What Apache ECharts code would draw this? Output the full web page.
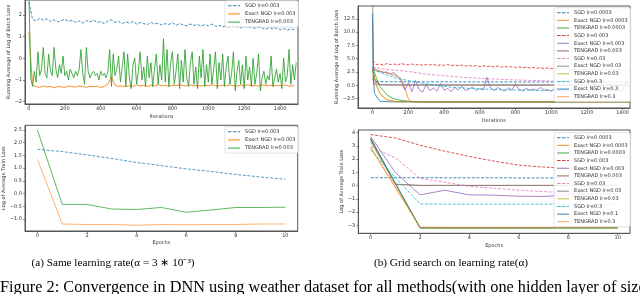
<!DOCTYPE html>
<html><head><meta charset="utf-8">
<script src="https://cdn.jsdelivr.net/npm/echarts@6/dist/echarts.min.js"></script>
<style>html,body{margin:0;padding:0;background:#fff}#c{width:640px;height:294px}</style>
</head><body><div id="c"></div><script>
// ---------- tick values ----------
const iterTicks = [0, 200, 400, 600, 800, 1000, 1200, 1400];
const epochTicks = [0, 2, 4, 6, 8, 10];
const tlYTicks = [-2, -1, 0, 1, 2];
const blYTicks = [-1.0, -0.5, 0.0, 0.5, 1.0, 1.5, 2.0, 2.5];
const trYTicks = [-2.5, 0.0, 2.5, 5.0, 7.5, 10.0, 12.5];
const brYTicks = [-3, -2, -1, 0, 1, 2, 3, 4];
const epochs = [0, 1, 2, 3, 4, 5, 6, 7, 8, 9, 10];

// ---------- (a) top: running average of log batch loss ----------
const tlStep = 20;      // iterations between samples (SGD, Exact NGD)
const tlStepTen = 10;   // iterations between samples (TENGRAD)
const tlSgd = [2.6,1.8,1.72,1.85,1.75,1.82,1.7,1.78,1.68,1.74,
  1.8,1.7,1.76,1.66,1.72,1.62,1.74,1.68,1.76,1.65,
  1.7,1.6,1.72,1.78,1.66,1.7,1.6,1.68,1.62,1.7,
  1.58,1.65,1.6,1.55,1.66,1.58,1.62,1.54,1.6,1.56,
  1.64,1.52,1.6,1.55,1.5,1.58,1.52,1.56,1.48,1.55,
  1.5,1.58,1.47,1.52,1.45,1.5,1.44,1.52,1.46,1.4,
  1.48,1.42,1.46,1.38,1.44,1.4,1.35,1.42,1.36,1.4,
  1.32,1.38,1.3,1.36,1.33];
const tlNgd = [1.2,-1.25,-1.3,-1.35,-1.28,-1.32,-1.3,-1.36,-1.3,-1.32,
  -1.35,-1.28,-1.3,-1.33,-1.27,-1.3,-1.34,-1.29,-1.31,-1.28,
  -1.35,-1.3,-1.2,-0.85,-1.25,-1.3,-1.27,-1.31,-1.26,-1.3,
  -1.22,-1.28,-1.25,-1.3,-1.24,-1.28,-1.22,-1.27,-1.25,-1.3,
  -1.24,-1.27,-1.22,-1.26,-1.28,-1.23,-1.27,-1.25,-1.29,-1.24,
  -1.27,-1.22,-1.26,-1.28,-1.24,-1.27,-1.23,-1.26,-1.29,-1.24,
  -1.26,-1.22,-1.27,-1.25,-1.28,-1.23,-1.26,-1.24,-1.28,-1.25,
  -1.27,-1.23,-1.26,-1.29,-1.25];
const tlTen = [3.0,-0.9,-1.3,-0.6,-1.1,0.3,-0.8,-0.5,0.5,-0.7,
  -0.9,0.2,-0.6,-0.8,0.5,-0.5,-0.9,-0.3,-0.7,0.1,
  -0.8,-0.6,-1.0,-0.5,-0.7,-0.9,-0.6,-0.8,-0.5,0.4,
  -0.7,-1.2,0.5,-0.6,-0.9,-0.7,-0.6,-0.8,-0.7,-1.0,
  -0.6,-0.8,-0.7,-0.9,-0.6,0.4,-1.3,0.2,-0.8,-0.5,
  0.1,-1.1,-0.4,0.3,-1.3,0.2,-0.9,-1.4,-0.3,0.0,
  -1.2,-0.6,0.3,-1.0,-0.4,-1.3,0.1,-0.9,-0.2,-1.3,
  -0.5,0.2,-1.2,-0.3,-1.0,0.9,-1.1,0.4,-1.3,-0.2,
  0.3,-1.2,-0.6,0.2,-1.4,-0.1,-1.1,0.4,-0.9,-1.3,
  -0.2,0.3,-1.2,-0.4,-1.4,0.1,-0.9,0.4,-1.3,-0.3,
  -1.1,0.2,-1.2,-0.5,0.3,-1.4,-0.2,-1.0,0.2,-1.3,
  -0.4,0.1,-1.2,-0.7,0.3,-1.5,-0.6,-0.1,-1.2,-0.3,
  -1.4,0.1,-1.0,-0.4,-1.3,0.0,-1.2,-0.7,0.2,-1.5,
  -0.9,-0.6,-1.2,-0.8,-1.0,0.1,-1.3,-0.9,-0.5,-1.1,
  -0.7,-1.4,0.0,-1.1,-0.8,0.4,-1.2,-0.3,-1.0,-0.2];

// ---------- (a) bottom: log of average train loss per epoch ----------
const blSgd = [1.74,1.65,1.52,1.38,1.22,1.1,0.97,0.87,0.75,0.65,0.56];
const blNgd = [1.35,-1.2,-1.22,-1.22,-1.25,-1.22,-1.23,-1.22,-1.22,-1.2,-1.2];
const blTen = [2.5,-0.43,-0.43,-0.61,-0.63,-0.55,-0.74,-0.65,-0.55,-0.55,-0.54];

// ---------- (b) top: running average, grid search ----------
const trStep = 20;
const trSgd0003 = [[0,1.2],[10,0.7],[100,0.66],[300,0.65],[500,0.64],[700,0.63],[900,0.62],[1100,0.61],[1300,0.6],[1440,0.6]];
const trNgd0003 = [[0,12.0],[5,3.2],[30,2.8],[60,2.5],[100,2.1],[140,1.7],[160,1.2],[180,-0.5],[200,-2.5],[215,-3.1],[300,-3.15],[600,-3.15],[900,-3.12],[1200,-3.15],[1440,-3.13]];
const trTen0003 = [[0,3.3],[20,1.5],[40,-0.2],[60,-1.0],[80,-1.8],[110,-2.4],[150,-2.8],[200,-3.0],[260,-3.1],[400,-3.12],[700,-3.1],[1000,-3.12],[1440,-3.1]];
const trSgd003 = [4.6,3.9,4.0,3.8,4.1,3.9,4.0,3.8,4.1,3.9,
  3.85,4.0,3.8,3.95,3.75,3.9,3.8,3.95,3.7,3.85,
  3.75,3.9,3.7,3.8,3.65,3.8,3.6,3.75,3.55,3.7,
  3.5,3.65,3.55,3.6,3.45,3.6,3.4,3.55,3.4,3.5,
  3.35,3.45,3.3,3.4,3.25,3.35,3.2,3.3,3.15,3.25,
  3.1,3.2,3.05,3.15,3.0,3.1,2.95,3.05,2.95,3.0,
  2.9,3.0,2.85,2.95,2.85,2.9,2.8,2.9,2.75,2.85,
  2.8,2.85,2.75];
const trNgd003 = [3.3,2.7,2.6,2.4,2.5,2.1,2.4,1.6,0.8,-0.9,
  0.5,-1.2,0.9,-0.8,-1.3,0.2,-1.0,-0.5,-1.1,0.3,
  -0.9,-0.6,-1.2,-0.4,-0.9,-0.2,-1.0,-0.7,-0.3,-1.0,
  -0.6,-0.9,1.5,-0.5,-1.0,-0.4,-0.8,-1.1,-0.5,-0.9,
  0.3,-0.8,-1.0,-0.6,-0.9,-0.7,-1.0,-0.4,-0.9,-0.8,
  -1.1,-0.6,-0.9,-1.0,-0.7,-1.1,-0.8,-0.9,-1.2,-0.7,
  -1.0,-0.9,-1.1,-0.8,-1.0,-0.9,-1.1,-0.7,-1.0,-0.9,
  -1.1,0.8,-0.9];
const trTen003 = [[0,3.2],[10,1.4],[25,0.4],[50,0.1],[100,0.05],[400,0.03],[800,0.02],[1200,0.02],[1440,0.02]];
const trSgd03 = [[0,3.4],[50,3.1],[100,2.9],[200,2.6],[300,2.1],[400,1.8],[500,1.5],[600,1.3],[700,1.15],[800,1.0],[900,0.9],[1000,0.8],[1100,0.75],[1200,0.7],[1300,0.65],[1440,0.6]];
const trNgd03 = [[0,16.0],[4,0.3],[20,0.1],[500,0.08],[1000,0.08],[1440,0.08]];
const trTen03 = [[0,3.0],[15,0.5],[40,-1.5],[80,-2.7],[130,-3.05],[300,-3.12],[800,-3.12],[1440,-3.1]];
const trSgd3 = [[0,3.0],[50,2.3],[100,1.7],[150,1.2],[200,0.9],[265,0.5],[350,0.0],[450,-0.4],[550,-0.6],[650,-0.75],[800,-0.9],[1000,-1.0],[1200,-1.1],[1440,-1.15]];
const trNgd3 = [[0,13.5],[3,2.0],[10,-1.5],[40,-3.0],[100,-3.12],[600,-3.12],[1440,-3.12]];
const trTen3 = [[0,2.8],[20,0.0],[50,-2.0],[90,-2.9],[150,-3.1],[500,-3.1],[1000,-3.12],[1440,-3.1]];

// ---------- (b) bottom: per epoch, grid search ----------
const brSgd0003 = [0.6,0.6,0.6,0.59,0.59,0.59,0.58,0.58,0.58,0.58,0.57];
const brNgd0003 = [2.9,-0.1,-3.15,-3.16,-3.16,-3.16,-3.16,-3.16,-3.16,-3.16,-3.16];
const brTen0003 = [3.5,0.15,-3.2,-3.2,-3.2,-3.2,-3.2,-3.2,-3.2,-3.2,-3.2];
const brSgd003 = [3.85,3.6,3.05,2.6,2.2,1.85,1.55,1.4,1.3,1.25,1.2];
const brNgd003 = [3.7,1.0,-0.7,-0.35,-0.7,-0.72,-0.8,-0.82,-0.7,-0.65,-0.6];
const brTen003 = [3.6,0.1,0.02,0.02,0.02,0.02,0.02,0.02,0.02,0.02,0.02];
const brSgd03 = [2.95,2.1,0.55,0.25,-0.05,-0.2,-0.35,-0.45,-0.55,-0.6,-0.65];
const brNgd03 = [3.3,0.1,0.01,0.01,0.01,0.01,0.01,0.01,0.01,0.01,0.01];
const brTen03 = [3.4,0.1,-3.2,-3.2,-3.2,-3.2,-3.2,-3.2,-3.2,-3.2,-3.2];
const brSgd3 = [2.7,0.6,-1.38,-1.4,-1.4,-1.4,-1.4,-1.4,-1.4,-1.4,-1.4];
const brNgd01 = [3.5,0.2,-3.18,-3.18,-3.18,-3.18,-3.18,-3.18,-3.18,-3.18,-3.18];
const brTen3 = [2.85,-0.15,-3.15,-3.15,-3.15,-3.15,-3.15,-3.15,-3.15,-3.15,-3.15];

// ---------- names ----------
const Z = '\u200b'; // keeps left-panel legend entries distinct from right-panel ones
const leftNames = ['SGD lr=0.003' + Z, 'Exact NGD lr=0.003' + Z, 'TENGRAD lr=0.003' + Z];
const rightNamesTop = ['SGD lr=0.0003','Exact NGD lr=0.0003','TENGRAD lr=0.0003','SGD lr=0.003','Exact NGD lr=0.003','TENGRAD lr=0.003','SGD lr=0.03','Exact NGD lr=0.03','TENGRAD lr=0.03','SGD lr=0.3','Exact NGD lr=0.3','TENGRAD lr=0.3'];
const rightNamesBot = ['SGD lr=0.0003','Exact NGD lr=0.0003','TENGRAD lr=0.0003','SGD lr=0.003','Exact NGD lr=0.003','TENGRAD lr=0.003','SGD lr=0.03','Exact NGD lr=0.03','TENGRAD lr=0.03','SGD lr=0.3','Exact NGD lr=0.1','TENGRAD lr=0.3'];

const C = {blue:'#1f77b4', orange:'#ff7f0e', green:'#2ca02c', red:'#d62728', purple:'#9467bd', brown:'#8c564b', pink:'#e377c2', gray:'#7f7f7f', olive:'#bcbd22', cyan:'#17becf'};

function stepped(arr, step){ return arr.map((v,i)=>[i*step, v]); }
function onEpochs(arr){ return arr.map((v,i)=>[epochs[i], v]); }
function line(name, data, color, dashed, gi, opacity){
  return {type:'line', name, data, xAxisIndex: gi, yAxisIndex: gi, symbol:'none', showSymbol:false,
    clip:true, animation:false, silent:true,
    lineStyle:{color, width:1, type: dashed ? [3,1.6] : 'solid', opacity: opacity},
    itemStyle:{color, opacity: Math.min(1, opacity + 0.1)}};
}

const FONT = 'DejaVu Sans';
const AX = '#555';
const fmt1 = v => (v < 0 ? '\u2212' : '') + Math.abs(v).toFixed(1);
const fmt0 = v => (v < 0 ? '\u2212' : '') + Math.abs(v).toFixed(0);

function xAx(gi, min, max, ticks, name, nameGap, f){
  return {type:'value', gridIndex:gi, min, max, name, nameLocation:'middle', nameGap,
    nameTextStyle:{fontSize:5, color:'#333', fontFamily:FONT},
    axisLine:{onZero:false, lineStyle:{color:AX, width:1}},
    axisTick:{customValues:ticks, length:2, lineStyle:{color:AX, width:0.7}},
    axisLabel:{customValues:ticks, fontSize:5, color:'#333', margin:2, fontFamily:FONT, formatter:f},
    splitLine:{show:false}};
}
function yAx(gi, min, max, ticks, name, nameGap, f){
  return {type:'value', gridIndex:gi, min, max, name, nameLocation:'middle', nameGap,
    nameTextStyle:{fontSize:5, color:'#333', fontFamily:FONT},
    axisLine:{onZero:false, lineStyle:{color:AX, width:1}},
    axisTick:{customValues:ticks, length:2, lineStyle:{color:AX, width:0.7}},
    axisLabel:{customValues:ticks, fontSize:5, color:'#333', margin:3, fontFamily:FONT, formatter:f},
    splitLine:{show:false}};
}
const SOLID_ICON = 'path://M0,0H12V1H0Z';
const DASH_ICON = 'path://M0,0H3.5V1H0Z M5,0H8.5V1H5Z M10,0H12V1H10Z';
function leg(names, left, top, gap){
  return {data:names.map(n => ({name:n, icon: n.startsWith('SGD') ? DASH_ICON : SOLID_ICON})),
    orient:'vertical', left, top, itemWidth:12, itemHeight:1.2, itemGap:gap,
    padding:[2,3,2,3], selectedMode:false,
    textStyle:{fontSize:5, lineHeight:6, fontFamily:FONT, color:'#333'},
    backgroundColor:'rgba(255,255,255,0.85)', borderColor:'#ccc', borderWidth:0.6, borderRadius:2};
}

const grid = [
  {left:25, top:-3, width:273, height:107},
  {left:25, top:125.3, width:272.7, height:105.7},
  {left:358, top:6, width:272, height:102},
  {left:358.3, top:130, width:271.7, height:103.3}
].map(g => Object.assign({show:true, borderColor:AX, borderWidth:1, backgroundColor:'transparent'}, g));

const series = [
  line(leftNames[0], stepped(tlSgd, tlStep), C.blue, true, 0, 0.85),
  line(leftNames[1], stepped(tlNgd, tlStep), C.orange, false, 0, 0.9),
  line(leftNames[2], stepped(tlTen, tlStepTen), C.green, false, 0, 0.85),

  line(leftNames[0], onEpochs(blSgd), C.blue, true, 1, 0.75),
  line(leftNames[1], onEpochs(blNgd), C.orange, false, 1, 0.6),
  line(leftNames[2], onEpochs(blTen), C.green, false, 1, 0.75),

  line(rightNamesTop[0], trSgd0003, C.blue, true, 2, 0.85),
  line(rightNamesTop[1], trNgd0003, C.orange, false, 2, 0.8),
  line(rightNamesTop[2], trTen0003, C.green, false, 2, 0.8),
  line(rightNamesTop[3], stepped(trSgd003, trStep), C.red, true, 2, 0.8),
  line(rightNamesTop[4], stepped(trNgd003, trStep), C.purple, false, 2, 0.8),
  line(rightNamesTop[5], trTen003, C.brown, false, 2, 0.8),
  line(rightNamesTop[6], trSgd03, C.pink, true, 2, 0.8),
  line(rightNamesTop[7], trNgd03, C.gray, false, 2, 0.8),
  line(rightNamesTop[8], trTen03, C.olive, false, 2, 0.8),
  line(rightNamesTop[9], trSgd3, C.cyan, true, 2, 0.8),
  line(rightNamesTop[10], trNgd3, C.blue, false, 2, 0.8),
  line(rightNamesTop[11], trTen3, C.orange, false, 2, 0.6),

  line(rightNamesBot[0], onEpochs(brSgd0003), C.blue, true, 3, 0.85),
  line(rightNamesBot[1], onEpochs(brNgd0003), C.orange, false, 3, 0.6),
  line(rightNamesBot[2], onEpochs(brTen0003), C.green, false, 3, 0.8),
  line(rightNamesBot[3], onEpochs(brSgd003), C.red, true, 3, 0.8),
  line(rightNamesBot[4], onEpochs(brNgd003), C.purple, false, 3, 0.8),
  line(rightNamesBot[5], onEpochs(brTen003), C.brown, false, 3, 0.8),
  line(rightNamesBot[6], onEpochs(brSgd03), C.pink, true, 3, 0.8),
  line(rightNamesBot[7], onEpochs(brNgd03), C.gray, false, 3, 0.6),
  line(rightNamesBot[8], onEpochs(brTen03), C.olive, false, 3, 0.8),
  line(rightNamesBot[9], onEpochs(brSgd3), C.cyan, true, 3, 0.8),
  line(rightNamesBot[10], onEpochs(brNgd01), C.blue, false, 3, 0.8),
  line(rightNamesBot[11], onEpochs(brTen3), C.orange, false, 3, 0.6)
];

const option = {
  animation:false,
  backgroundColor:'#fff',
  grid,
  xAxis:[
    xAx(0, -22, 1500, iterTicks, 'Iterations', 10, fmt0),
    xAx(1, -0.5, 10.5, epochTicks, 'Epochs', 9, fmt0),
    xAx(2, -82, 1441, iterTicks, 'Iterations', 10, fmt0),
    xAx(3, -0.5, 10.5, epochTicks, 'Epochs', 9.5, fmt0)
  ],
  yAxis:[
    yAx(0, -2.11, 2.69, tlYTicks, 'Running Average of Log of Batch Loss', 14, fmt0),
    yAx(1, -1.476, 2.685, blYTicks, 'Log of Average Train Loss', 15, fmt1),
    yAx(2, -4.27, 14.9, trYTicks, 'Running Average of Log of Batch Loss', 18, fmt1),
    yAx(3, -3.6, 4.2, brYTicks, 'Log of Average Train Loss', 13, fmt0)
  ],
  legend:[
    leg(leftNames, 225, 0.7, 2.2),
    leg(leftNames, 225, 126.7, 2.2),
    leg(rightNamesTop, 554, 7.7, 1.64),
    leg(rightNamesBot, 554, 132.7, 1.64)
  ],
  series,
  graphic:[
    {type:'text', x:113, y:263, style:{text:'(a) Same learning rate(\u03b1 = 3 \u2217 10\u207b\u00b3)', fontSize:11.2, fontFamily:'Liberation Serif', fill:'#000', align:'center', verticalAlign:'middle'}},
    {type:'text', x:451, y:263, style:{text:'(b) Grid search on learning rate(\u03b1)', fontSize:11.2, fontFamily:'Liberation Serif', fill:'#000', align:'center', verticalAlign:'middle'}},
    {type:'text', x:0, y:288, style:{text:'Figure 2: Convergence in DNN using weather dataset for all methods(with one hidden layer of size', fontSize:16.3, fontFamily:'Liberation Serif', fill:'#000', align:'left', verticalAlign:'middle'}}
  ]
};

const chart = echarts.init(document.getElementById('c'), null, {renderer:'canvas'});
chart.setOption(option);
</script></body></html>
